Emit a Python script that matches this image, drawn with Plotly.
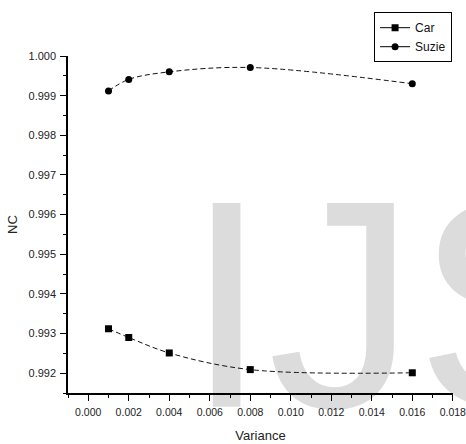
import plotly.graph_objects as go

variance = [0.001, 0.002, 0.004, 0.008, 0.016]
nc_car = [0.99312, 0.99290, 0.99251, 0.99209, 0.99201]
nc_suzie = [0.99912, 0.99941, 0.99960, 0.99971, 0.99930]
x_ticks = [0.000, 0.002, 0.004, 0.006, 0.008, 0.010, 0.012, 0.014, 0.016, 0.018]
y_ticks = [0.992, 0.993, 0.994, 0.995, 0.996, 0.997, 0.998, 0.999, 1.000]
series_names = ["Car", "Suzie"]
series_symbols = ["square", "circle"]

FONT = "Liberation Sans, Arial, sans-serif"

fig = go.Figure()

# watermark (behind data)
fig.add_trace(go.Scatter(
    x=[0.01536], y=[0.99302], mode="text", text=["IJS"],
    textfont=dict(family=FONT, size=296, color="#dcdcdc"),
    textposition="middle center", cliponaxis=False,
    showlegend=False, hoverinfo="skip"))

for name, ys, sym in zip(series_names, [nc_car, nc_suzie], series_symbols):
    fig.add_trace(go.Scatter(
        x=variance, y=ys, name=name, mode="lines+markers", showlegend=False,
        line=dict(color="#111", width=1, dash="5px,3px", shape="spline", smoothing=1),
        marker=dict(symbol=sym, size=7, color="#000")))

# legend entries (solid line samples, as in the reference legend)
for name, sym in zip(series_names, series_symbols):
    fig.add_trace(go.Scatter(
        x=[None], y=[None], name=name, mode="lines+markers",
        line=dict(color="#000", width=1),
        marker=dict(symbol=sym, size=7, color="#000")))

axis_common = dict(
    showgrid=False, zeroline=False, showline=True, linecolor="#000", linewidth=1.5,
    ticks="outside", ticklen=6, tickwidth=1, tickcolor="#000",
    tickformat=".3f", mirror=False, automargin=False, ticklabeloverflow="allow",
)

fig.update_xaxes(
    range=[-0.001, 0.01801], tickvals=x_ticks,
    tickfont=dict(family=FONT, size=10.5, color="#222"),
    ticklabelstandoff=3,
    minor=dict(dtick=0.001, ticks="outside", ticklen=3, tickcolor="#000", tick0=0),
    title=dict(text="Variance", font=dict(family=FONT, size=13, color="#222"), standoff=14),
    **axis_common)
fig.update_yaxes(
    range=[0.9915, 1.0], tickvals=y_ticks,
    tickfont=dict(family=FONT, size=11, color="#222"),
    ticklabelstandoff=2,
    minor=dict(dtick=0.0005, ticks="outside", ticklen=3, tickcolor="#000", tick0=0.992),
    title=dict(text="NC", font=dict(family=FONT, size=13, color="#222"), standoff=8),
    **axis_common)

fig.update_layout(
    width=466, height=444,
    margin=dict(l=68, r=13, t=50, b=51),
    plot_bgcolor="white", paper_bgcolor="white",
    legend=dict(x=0.795, y=1.13, xanchor="left", yanchor="top",
                bordercolor="#000", borderwidth=1, bgcolor="white",
                font=dict(family=FONT, size=12, color="#111"),
                itemwidth=30, tracegroupgap=0, entrywidth=85),
)

fig.write_html("out.html")
